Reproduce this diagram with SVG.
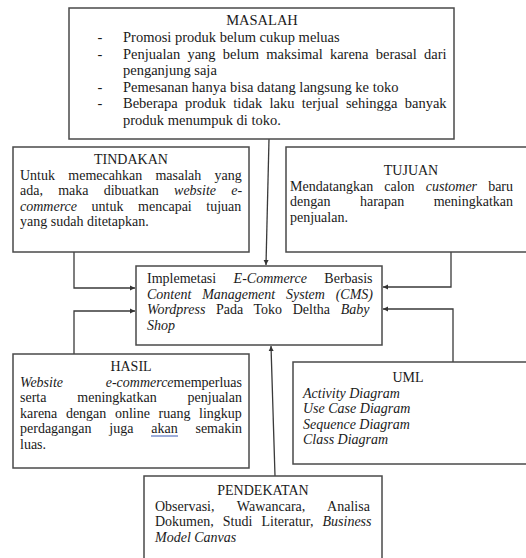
<svg xmlns="http://www.w3.org/2000/svg" width="526" height="558" viewBox="0 0 526 558">
<style>
.box{fill:#fff;stroke:#4a4a4a;stroke-width:1.5}
.t{font-family:"Liberation Serif","Times New Roman",serif;font-size:14px;fill:#1a1a1a}
.m{font-size:14.5px}
.c{text-anchor:middle}
.i{font-style:italic}
.ln{fill:none;stroke:#3a3a3a;stroke-width:1.3}
</style>
<defs>
<marker id="ah" markerUnits="userSpaceOnUse" markerWidth="6" markerHeight="6" refX="5" refY="3" orient="auto">
<path d="M0,0.5 L5,3 L0,5.5 Z" fill="#333"/>
</marker>
</defs>
<rect width="526" height="558" fill="#fff"/>

<g id="connectors">
<path class="ln" d="M269,139 L266,265" marker-end="url(#ah)"/>
<path class="ln" d="M74,252 V288 H135" marker-end="url(#ah)"/>
<path class="ln" d="M451,252 V287 H383" marker-end="url(#ah)"/>
<path class="ln" d="M74,354 V311 H135" marker-end="url(#ah)"/>
<path class="ln" d="M453,362 V309 H383" marker-end="url(#ah)"/>
<path class="ln" d="M275,476 L271,346" marker-end="url(#ah)"/>
</g>

<g id="masalah">
<rect class="box" x="69" y="8" width="385" height="131"/>
<text class="t m c" x="262" y="25">MASALAH</text>
<text class="t m c" x="100" y="42">-</text>
<text class="t m" x="123" y="42">Promosi produk belum cukup meluas</text>
<text class="t m c" x="100" y="58.5">-</text>
<text class="t m" x="123" y="58.5" style="word-spacing:3.6px">Penjualan yang belum maksimal karena berasal dari</text>
<text class="t m" x="123" y="75">penganjung saja</text>
<text class="t m c" x="100" y="91.5">-</text>
<text class="t m" x="123" y="91.5">Pemesanan hanya bisa datang langsung ke toko</text>
<text class="t m c" x="100" y="108">-</text>
<text class="t m" x="123" y="108" style="word-spacing:3.6px">Beberapa produk tidak laku terjual sehingga banyak</text>
<text class="t m" x="123" y="124.5">produk menumpuk di toko.</text>
</g>

<g id="tindakan">
<rect class="box" x="13" y="147" width="236" height="105"/>
<text class="t c" x="131" y="164">TINDAKAN</text>
<text class="t" x="20" y="179.5" style="word-spacing:9.8px">Untuk memecahkan masalah yang</text>
<text class="t" x="20" y="195" style="word-spacing:11.7px">ada, maka dibuatkan <tspan class="i">website e-</tspan></text>
<text class="t" x="20" y="210.5" style="word-spacing:11.1px"><tspan class="i">commerce</tspan> untuk mencapai tujuan</text>
<text class="t" x="20" y="226">yang sudah ditetapkan.</text>
</g>

<g id="tujuan">
<rect class="box" x="286" y="147" width="250" height="105"/>
<text class="t c" x="411" y="175">TUJUAN</text>
<text class="t" x="290" y="190.5" style="word-spacing:7.6px">Mendatangkan calon <tspan class="i">customer</tspan> baru</text>
<text class="t" x="290" y="206" style="word-spacing:26px">dengan harapan meningkatkan</text>
<text class="t" x="290" y="221.5">penjualan.</text>
</g>

<g id="implementasi">
<rect class="box" x="136" y="266" width="246" height="79"/>
<text class="t" x="147" y="283" style="word-spacing:13.9px">Implemetasi <tspan class="i">E-Commerce</tspan> Berbasis</text>
<text class="t i" x="147" y="298.5" style="word-spacing:7.3px">Content Management System (CMS)</text>
<text class="t" x="147" y="314" style="word-spacing:7.1px"><tspan class="i">Wordpress</tspan> Pada Toko Deltha <tspan class="i">Baby</tspan></text>
<text class="t i" x="147" y="329.5">Shop</text>
</g>

<g id="hasil">
<rect class="box" x="13" y="354" width="236" height="114"/>
<text class="t c" x="131" y="371">HASIL</text>
<text class="t i" x="20" y="386.5">Website</text>
<text class="t" x="242" y="386.5" text-anchor="end"><tspan class="i">e-commerce</tspan>memperluas</text>
<text class="t" x="20" y="402" style="word-spacing:27.4px">serta meningkatkan penjualan</text>
<text class="t" x="20" y="417.5" style="word-spacing:5.1px">karena dengan online ruang lingkup</text>
<text class="t" x="20" y="433" style="word-spacing:14.3px">perdagangan juga akan semakin</text>
<line x1="151" y1="436" x2="178" y2="436" stroke="#3b5bb5" stroke-width="1"/>
<text class="t" x="20" y="448.5">luas.</text>
</g>

<g id="uml">
<rect class="box" x="293" y="362" width="243" height="102"/>
<text class="t c" x="408" y="382">UML</text>
<text class="t i" x="303" y="397.5">Activity Diagram</text>
<text class="t i" x="303" y="413">Use Case Diagram</text>
<text class="t i" x="303" y="428.5">Sequence Diagram</text>
<text class="t i" x="303" y="444">Class Diagram</text>
</g>

<g id="pendekatan">
<rect class="box" x="144" y="476" width="238" height="90"/>
<text class="t c" x="263" y="495">PENDEKATAN</text>
<text class="t" x="155" y="510.5" style="word-spacing:19.1px">Observasi, Wawancara, Analisa</text>
<text class="t" x="155" y="526" style="word-spacing:5.6px">Dokumen, Studi Literatur, <tspan class="i">Business</tspan></text>
<text class="t i" x="155" y="541.5">Model Canvas</text>
</g>
</svg>
